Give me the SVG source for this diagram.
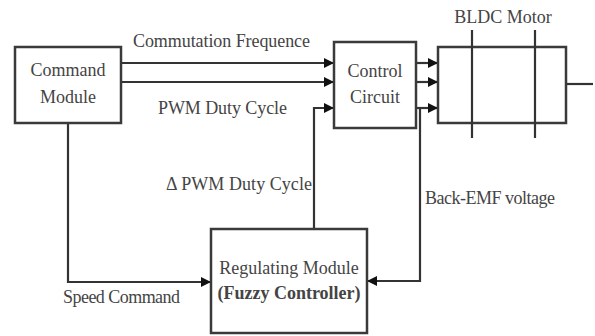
<svg xmlns="http://www.w3.org/2000/svg" width="595" height="336" viewBox="0 0 595 336">
<defs>
<style>
.box{fill:#fff;stroke:#3a3a3a;stroke-width:2.5}
.ln{fill:none;stroke:#333;stroke-width:2.2}
.t{font-family:"Liberation Serif","Times New Roman",serif;font-size:18px;fill:#444}
.c{text-anchor:middle}
.b{font-weight:bold}
</style>
<marker id="ah" viewBox="0 0 10 10" refX="10" refY="5" markerWidth="10" markerHeight="10" markerUnits="userSpaceOnUse" orient="auto">
<path d="M0,0 L10,5 L0,10 z" fill="#111"/>
</marker>
</defs>
<rect width="595" height="336" fill="#fff"/>
<g id="connectors">
<path class="ln" d="M121,63 H334" marker-end="url(#ah)"/>
<path class="ln" d="M121,82 H334" marker-end="url(#ah)"/>
<path class="ln" d="M314,229 V108 H334" marker-end="url(#ah)"/>
<path class="ln" d="M416,63 H438" marker-end="url(#ah)"/>
<path class="ln" d="M416,82 H438" marker-end="url(#ah)"/>
<path class="ln" d="M416,108 H438" marker-end="url(#ah)"/>
<path class="ln" d="M420,108 V281 H367" marker-end="url(#ah)"/>
<path class="ln" d="M68,123 V282 H211" marker-end="url(#ah)"/>
<path class="ln" d="M566,84 H593"/>
<text class="t" x="133" y="47" textLength="177">Commutation Frequence</text>
<text class="t" x="158" y="114" textLength="129">PWM Duty Cycle</text>
<text class="t" x="166" y="190" textLength="146">Δ PWM Duty Cycle</text>
<text class="t" x="425" y="204" textLength="130">Back-EMF voltage</text>
<text class="t" x="63" y="303" textLength="117">Speed Command</text>
</g>
<g id="command-module">
<rect class="box" x="15" y="47" width="106" height="76"/>
<text class="t c" x="68" y="76">Command</text>
<text class="t c" x="68" y="103">Module</text>
</g>
<g id="control-circuit">
<rect class="box" x="334" y="42" width="82" height="86"/>
<text class="t c" x="375" y="77">Control</text>
<text class="t c" x="375" y="103">Circuit</text>
</g>
<g id="bldc-motor">
<rect class="box" x="438" y="47" width="128" height="76"/>
<path class="ln" d="M472,30 V138 M535,30 V138"/>
<text class="t c" x="503" y="23">BLDC Motor</text>
</g>
<g id="regulating-module">
<rect class="box" x="211" y="229" width="156" height="104"/>
<text class="t c" x="289" y="274">Regulating Module</text>
<text class="t c b" x="289" y="299">(Fuzzy Controller)</text>
</g>
</svg>
